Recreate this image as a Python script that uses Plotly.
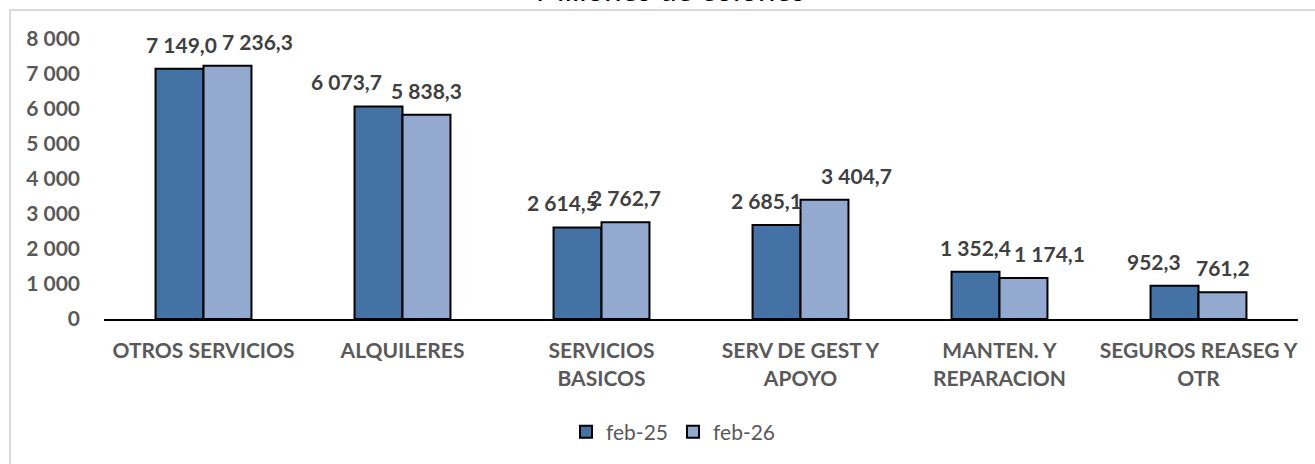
import plotly.graph_objects as go

categories = ["OTROS SERVICIOS", "ALQUILERES", "SERVICIOS<br>BASICOS", "SERV DE GEST Y<br>APOYO",
              "MANTEN. Y<br>REPARACION", "SEGUROS REASEG Y<br>OTR"]
feb25 = [7149.0, 6073.7, 2614.5, 2685.1, 1352.4, 952.3]
feb26 = [7236.3, 5838.3, 2762.7, 3404.7, 1174.1, 761.2]
series_names = ["feb-25", "feb-26"]
y_ticks = [0, 1000, 2000, 3000, 4000, 5000, 6000, 7000, 8000]
title_text = "Millones de colones"

# label placement tweaks (pixels), style only
label_dx = [[2, -32, -15, -10, 0, -21], [30, 0, 0, 32, 26, 0]]

FONT = "Lato, Calibri, Carlito, sans-serif"
colors = ["#4472A4", "#94A9D0"]

W, H = 1315, 464
L, R, T, B = 104, 17, 39, 145
pw, ph = W - L - R, H - T - B
BAR_OFF = 24  # half bar width in px

fig = go.Figure()
for name, vals, col in zip(series_names, [feb25, feb26], colors):
    fig.add_trace(go.Bar(
        x=categories, y=vals, name=name,
        marker=dict(color=col, line=dict(color="#000000", width=2)),
        cliponaxis=False, hoverinfo="skip",
    ))

for si, vals in enumerate([feb25, feb26]):
    side = -BAR_OFF if si == 0 else BAR_OFF
    for ci, v in enumerate(vals):
        txt = f"{v:,.1f}".replace(",", " ").replace(".", ",")
        fig.add_annotation(x=categories[ci], y=v, text=txt, showarrow=False,
                           xanchor="center", yanchor="bottom",
                           xshift=side + label_dx[si][ci], yshift=10,
                           font=dict(family=FONT, size=21, color="#404040", weight="bold"))

def px_x(p):
    return (p - L) / pw

def px_y(p):
    return (H - B - p) / ph

fig.add_shape(type="rect", xref="paper", yref="paper",
              x0=px_x(10), x1=px_x(1330), y0=px_y(10), y1=px_y(480),
              line=dict(color="#D9D9D9", width=2), fillcolor="rgba(0,0,0,0)", layer="below")

fig.add_annotation(text=title_text, xref="paper", yref="paper",
                   x=px_x(670), y=px_y(10), xanchor="center", yanchor="bottom",
                   showarrow=False, font=dict(family=FONT, size=31, color="#000000"))

fig.update_layout(
    width=W, height=H,
    margin=dict(l=L, r=R, t=T, b=B),
    plot_bgcolor="white", paper_bgcolor="white",
    barmode="group", bargap=0.518, bargroupgap=0,
    separators=", ",
    showlegend=True,
    legend=dict(orientation="h", x=px_x(566), xanchor="left", y=px_y(432), yanchor="middle",
                font=dict(family=FONT, size=21, color="#595959"), itemwidth=30),
    xaxis=dict(showline=True, linecolor="#000000", linewidth=2, ticks="",
               tickfont=dict(family=FONT, size=21, color="#595959", weight="bold"),
               ticklabelstandoff=12, showgrid=False),
    yaxis=dict(range=[0, 8000], tickvals=y_ticks, tickformat=",d", showgrid=False, showline=False,
               zeroline=False, ticks="",
               tickfont=dict(family=FONT, size=21, color="#595959", weight="bold"),
               ticklabelstandoff=23),
)

fig.write_html("out.html", config={"displayModeBar": False},
               post_script="document.body.style.margin='0';")
